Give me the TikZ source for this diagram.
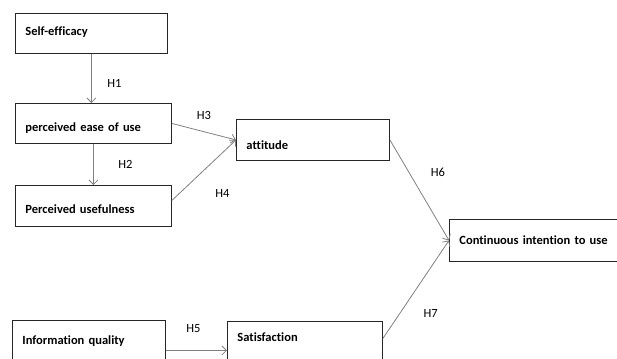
\documentclass[tikz,border=0pt]{standalone}
\usepackage{fontspec}
\setmainfont{Carlito}[Ligatures=NoCommon]
\usetikzlibrary{arrows.meta}
\definecolor{edge}{HTML}{808080}
\definecolor{frame}{HTML}{262626}

\begin{document}
\begin{tikzpicture}[x=1pt,y=-1pt,font=\fontsize{12.5pt}{15pt}\selectfont,>={Straight Barb[length=4.5pt,width=9pt]},
 box/.style={draw=frame,line width=0.9pt,anchor=north west,inner xsep=10pt,inner ysep=0pt,align=left,font=\fontsize{12.5pt}{15pt}\selectfont\bfseries},
 hyp/.style={text=black,inner sep=0pt},
 link/.style={->,draw=edge,line width=0.8pt}]
\useasboundingbox (0,0) rectangle (617,358);
% constructs
\node[box,text width=132pt,text height=22.5pt,text depth=17.5pt] (self) at (15,13) {Self-efficacy};
\node[box,text width=136pt,text height=28pt,text depth=12pt] (peou) at (15,103) {perceived ease of use};
\node[box,text width=136pt,text height=28pt,text depth=13pt] (pu) at (15,185) {Perceived usefulness};
\node[box,text width=133pt,text height=30pt,text depth=11pt] (att) at (236,119) {attitude};
\node[box,text width=160pt,text height=25pt,text depth=17pt] (ciu) at (449,219) {Continuous intention to use};
\node[box,text width=133pt,text height=24pt,text depth=36pt] (iq) at (12,320) {Information quality};
\node[box,text width=135pt,text height=20pt,text depth=39pt] (sat) at (227,321) {Satisfaction};
% hypotheses
\draw[link] (self.south) -- (self.south |- peou.north) node[hyp,pos=.6,xshift=23pt] (h1) {H1};
\draw[link] (peou.south) -- (pu.north) node[hyp,pos=.5,xshift=32pt] (h2) {H2};
\draw[link] (peou.east) -- (att.west) node[hyp,pos=.5,yshift=16.5pt] (h3) {H3};
\draw[link] ([yshift=5.5pt]pu.east) -- (att.west) node[hyp,pos=.5,xshift=18.5pt,yshift=-23pt] (h4) {H4};
\draw[link] (iq.east) -- (iq.east -| sat.west) node[hyp,pos=.5,xshift=-3pt,yshift=22pt] (h5) {H5};
\draw[link] (att.east) -- (ciu.west) node[hyp,pos=.32,xshift=29pt] (h6) {H6};
\draw[link] ([yshift=12.5pt]sat.east) -- (ciu.west) node[hyp,pos=.255,xshift=31pt] (h7) {H7};
\end{tikzpicture}
\end{document}
